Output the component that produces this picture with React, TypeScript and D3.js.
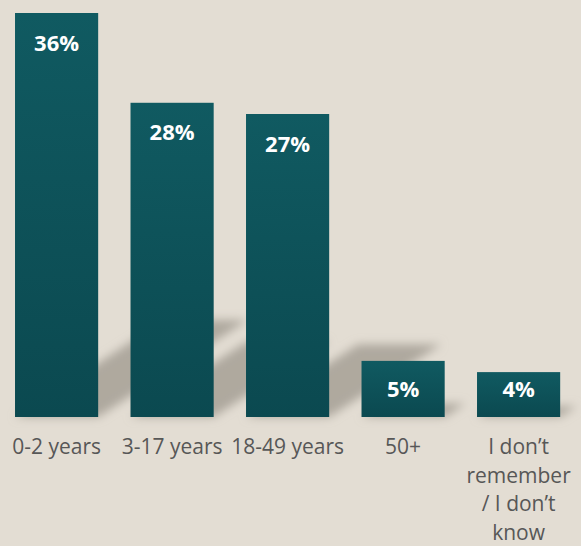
import React from "react";
import * as d3 from "d3";

const categories = ["0-2 years", "3-17 years", "18-49 years", "50+", "I don’t remember / I don’t know"];
const categoryLines = [["0-2 years"], ["3-17 years"], ["18-49 years"], ["50+"], ["I don’t", "remember", "/ I don’t", "know"]];
const values = [36, 28, 27, 5, 4];
const valueLabels = ["36%", "28%", "27%", "5%", "4%"];

const W = 581;
const H = 546;
const BASE = 417;

export default function App() {
  const x = d3.scaleBand<string>().domain(categories).range([0, 575.2]).paddingInner(0.28).paddingOuter(0.13);
  const y = d3.scaleLinear().domain([0, 36]).range([BASE, 13]);
  const bw = x.bandwidth();
  const skewX = 0.37;
  const skewY = 0.24;

  return (
    <div style={{ position: "fixed", left: 0, top: 0, width: W, height: H, background: "#e3ddd3" }}>
      <svg width={W} height={H} style={{ display: "block" }}>
        <defs>
          <linearGradient id="barGrad" x1="0" y1="0" x2="0" y2="1">
            <stop offset="0%" stopColor="#105a61" />
            <stop offset="100%" stopColor="#0b4950" />
          </linearGradient>
          <filter id="blur" x="-50%" y="-50%" width="200%" height="200%">
            <feGaussianBlur stdDeviation="5" />
          </filter>
        </defs>
        <rect x={0} y={0} width={W} height={H} fill="#e3ddd3" />
        <g filter="url(#blur)">
          {categories.map((c, i) => {
            const x0 = x(c)!;
            const x1 = x0 + bw;
            const h = BASE - y(values[i]);
            const dx = skewX * h;
            const dy = skewY * h;
            const pts = [
              [x0, BASE],
              [x1, BASE],
              [x1 + dx, BASE - dy],
              [x0 + dx, BASE - dy],
            ];
            return <polygon key={c} points={pts.map((p) => p.join(",")).join(" ")} fill="#a8a399" opacity={0.9} />;
          })}
        </g>
        {categories.map((c, i) => (
          <rect key={c} x={x(c)} y={y(values[i])} width={bw} height={BASE - y(values[i])} fill="url(#barGrad)" />
        ))}
        {categories.map((c, i) => (
          <text
            key={c}
            x={x(c)! + bw / 2}
            y={Math.min(y(values[i]) + 37.5, BASE - 20)}
            textAnchor="middle"
            fill="#ffffff"
            fontFamily="'Open Sans', sans-serif"
            fontWeight={700}
            fontSize={22}
          >
            {valueLabels[i]}
          </text>
        ))}
        {categories.map((c, i) => (
          <text
            key={c}
            x={x(c)! + bw / 2}
            y={454}
            textAnchor="middle"
            fill="#575757"
            fontFamily="'Open Sans', sans-serif"
            fontSize={21}
          >
            {categoryLines[i].map((line, j) => (
              <tspan key={j} x={x(c)! + bw / 2} dy={j === 0 ? 0 : 28.5}>
                {line}
              </tspan>
            ))}
          </text>
        ))}
      </svg>
    </div>
  );
}
